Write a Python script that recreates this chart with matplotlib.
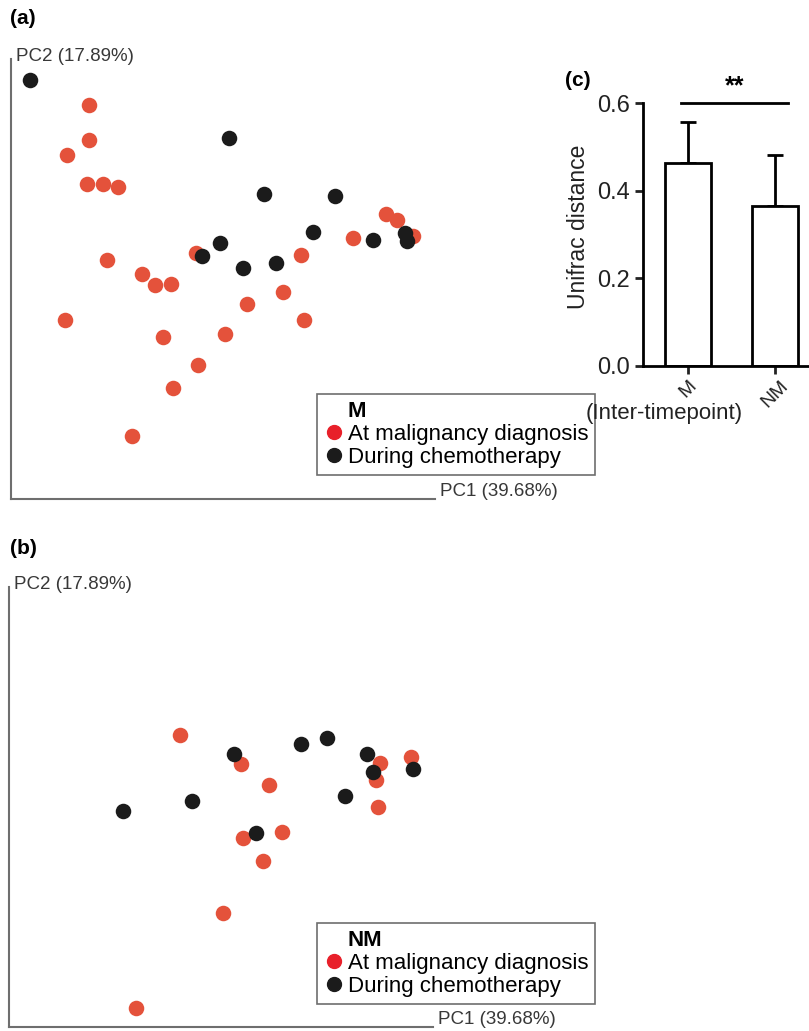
import numpy as np
import matplotlib.pyplot as plt
from matplotlib.transforms import offset_copy

plt.rcParams['font.family'] = ['Liberation Sans', 'DejaVu Sans']

# PCoA coordinates, group M (panel a)
m_diag_pc1 = [-0.142, -0.142, -0.164, -0.144, -0.128, -0.113, 0.155, 0.166, 0.182, 0.122,
              -0.035, 0.070, -0.124, -0.089, -0.076, -0.060, 0.052, 0.016, 0.073, -0.166,
              -0.068, -0.006, -0.033, -0.058, -0.099]
m_diag_pc2 = [0.196, 0.161, 0.146, 0.116, 0.116, 0.113, 0.086, 0.080, 0.064, 0.062,
              0.047, 0.045, 0.040, 0.026, 0.015, 0.016, 0.008, -0.004, -0.020, -0.020,
              -0.037, -0.034, -0.065, -0.088, -0.137]
m_chemo_pc1 = [-0.201, -0.002, 0.033, 0.104, 0.082, -0.011, -0.029, 0.012, 0.045, 0.142, 0.174, 0.176]
m_chemo_pc2 = [0.221, 0.163, 0.106, 0.104, 0.068, 0.057, 0.044, 0.032, 0.037, 0.060, 0.067, 0.059]

# group NM (panel b)
nm_diag_pc1 = [-0.049, 0.012, 0.040, 0.151, 0.182, 0.147, 0.149, 0.053, 0.014, 0.034, -0.006, -0.093]
nm_diag_pc2 = [0.093, 0.064, 0.043, 0.065, 0.071, 0.048, 0.021, -0.004, -0.010, -0.033, -0.085, -0.181]
nm_chemo_pc1 = [-0.106, -0.037, 0.005, 0.072, 0.098, 0.138, 0.144, 0.184, 0.116, 0.027]
nm_chemo_pc2 = [0.017, 0.027, 0.074, 0.084, 0.090, 0.074, 0.056, 0.059, 0.032, -0.005]

# panel c
groups = ['M', 'NM']
unifrac_mean = [0.463, 0.365]
unifrac_err = [0.094, 0.116]

red = '#e4523b'
red_leg = '#e8202a'
black = '#1b1b1b'

W, H = 809, 1031
fig = plt.figure(figsize=(W / 100, H / 100), dpi=100)


def pcoa_panel(rect, d1, d2, c1, c2, title, legend_top):
    ax = fig.add_axes(rect)
    ax.scatter(d1, d2, s=125, color=red, linewidths=0, zorder=2)
    ax.scatter(c1, c2, s=125, color=black, linewidths=0, zorder=3)
    ax.set_xlim(-0.22, 0.204)
    ax.set_ylim(-0.20, 0.242)
    for s in ['top', 'right']:
        ax.spines[s].set_visible(False)
    for s in ['left', 'bottom']:
        ax.spines[s].set_color('#6e6e6e')
        ax.spines[s].set_linewidth(1.5)
    ax.set_xticks([])
    ax.set_yticks([])
    ax.text(0.012, 1.0, 'PC2 (17.89%)', transform=offset_copy(ax.transAxes, fig, y=-2, units='dots'),
            fontsize=13.5, color='#383838', va='baseline', ha='left')
    ax.text(1.012, 0.0, 'PC1 (39.68%)', transform=offset_copy(ax.transAxes, fig, y=7, units='dots'),
            fontsize=13.5, color='#383838', va='center', ha='left')
    h1 = plt.Line2D([], [], marker='o', ls='', color=red_leg, markersize=10)
    h2 = plt.Line2D([], [], marker='o', ls='', color=black, markersize=10)
    leg = ax.legend([h1, h2], ['At malignancy diagnosis', 'During chemotherapy'],
                    title=title, loc='upper left',
                    bbox_to_anchor=(317 / W, 1 - legend_top / H),
                    bbox_transform=fig.transFigure, borderaxespad=0,
                    fontsize=16, title_fontproperties={'size': 16, 'weight': 'bold'},
                    fancybox=False, handletextpad=0.2, handlelength=0.9,
                    borderpad=0.3, labelspacing=0.1, alignment='left', framealpha=1)
    leg.get_frame().set_edgecolor('#6e6e6e')
    leg.get_frame().set_linewidth(1.2)
    leg.get_title().set_position((24, 0))
    return ax


pcoa_panel([11 / W, 1 - 499 / H, 424 / W, 440 / H], m_diag_pc1, m_diag_pc2,
           m_chemo_pc1, m_chemo_pc2, 'M', 394)
pcoa_panel([9 / W, 1 - 1027 / H, 424 / W, 440 / H], nm_diag_pc1, nm_diag_pc2,
           nm_chemo_pc1, nm_chemo_pc2, 'NM', 923)

fig.text(10 / W, 1 - 18 / H, '(a)', fontsize=15, fontweight='bold', va='center')
fig.text(10 / W, 1 - 548 / H, '(b)', fontsize=15, fontweight='bold', va='center')
fig.text(565 / W, 1 - 80 / H, '(c)', fontsize=15, fontweight='bold', va='center')

# bar chart
axc = fig.add_axes([643 / W, 1 - 366 / H, 166 / W, 263 / H])
x = np.arange(len(groups))
axc.bar(x, unifrac_mean, width=0.52, color='white', edgecolor='black', linewidth=2, zorder=2)
axc.errorbar(x, unifrac_mean, yerr=[[0, 0], unifrac_err], fmt='none', ecolor='black',
             elinewidth=2, capsize=6, capthick=2, zorder=1)
axc.set_xlim(-0.517, 1.39)
axc.set_ylim(0, 0.6)
axc.set_yticks([0.0, 0.2, 0.4, 0.6])
axc.set_yticklabels(['0.0', '0.2', '0.4', '0.6'])
axc.set_xticks(x)
axc.set_xticklabels(groups, rotation=45, ha='center', va='top',
                    fontsize=14, color='#222222')
for lab in axc.get_xticklabels():
    lab.set_transform(lab.get_transform() + offset_copy(fig.dpi_scale_trans, fig, x=-4, units='dots')
                      - fig.dpi_scale_trans)
axc.tick_params(width=2, length=6, colors='#222222')
axc.tick_params(axis='y', labelsize=17)
axc.tick_params(axis='x', pad=2)
for s in ['top', 'right']:
    axc.spines[s].set_visible(False)
for s in ['left', 'bottom']:
    axc.spines[s].set_linewidth(2)
axc.set_ylabel('Unifrac distance', fontsize=16.5, color='#222222')
axc.yaxis.label.set_va('center')
axc.yaxis.set_label_coords(-0.39, 0.53)
axc.set_xlabel('(Inter-timepoint)', fontsize=16, color='#222222')
axc.xaxis.label.set_va('center')
axc.xaxis.set_label_coords(0.13, -0.18)
axc.plot([-0.08, 1.15], [0.6, 0.6], color='black', lw=2, clip_on=False)
axc.text(0.535, 0.61, '**', ha='center', va='bottom', fontsize=18, fontweight='bold')

fig.savefig('out.png', dpi=100)
